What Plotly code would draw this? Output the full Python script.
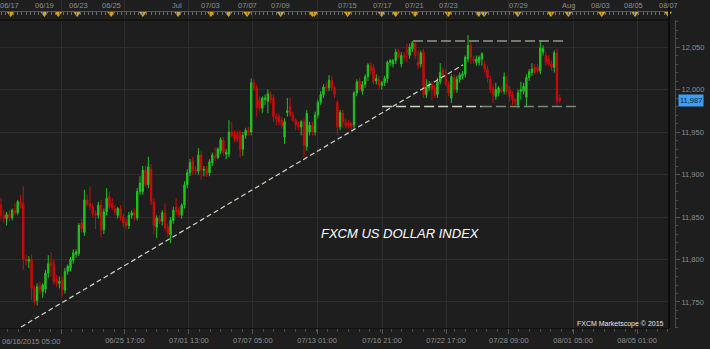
import plotly.graph_objects as go

# ---------------- data (4-hour bars) ----------------
open_ = [
    11864, 11852, 11848, 11853, 11849, 11858, 11855, 11868, 11866, 11800,
    11798, 11800, 11766, 11752, 11768, 11762, 11765, 11784, 11797, 11795,
    11776, 11772, 11776, 11764, 11786, 11790, 11799, 11806, 11807, 11843,
    11832, 11870, 11866, 11862, 11854, 11852, 11864, 11835, 11856, 11874,
    11866, 11860, 11852, 11860, 11850, 11844, 11840, 11852, 11855, 11849,
    11880, 11880, 11905, 11888, 11906, 11868, 11838, 11848, 11845, 11855,
    11838, 11829, 11846, 11862, 11858, 11852, 11864, 11888, 11902, 11916,
    11906, 11904, 11923, 11905, 11906, 11902, 11914, 11922, 11920, 11928,
    11940, 11924, 11924, 11950, 11946, 11948, 11950, 11930, 11946, 11952,
    11950, 12008, 12002, 11988, 11978, 11988, 11986, 11994, 11990, 11968,
    11968, 11964, 11944, 11973, 11980, 11970, 11964, 11958, 11956, 11962,
    11933, 11950, 11958, 11950, 11970, 11985, 11994, 12003, 12002, 12011,
    12002, 11985, 11956, 11972, 11962, 11960, 11960, 11958, 11996, 12010,
    11998, 12006, 12015, 12028, 12026, 12010, 12012, 12005, 12008, 12013,
    12032, 12030, 12034, 12044, 12030, 12040, 12046, 12040, 12048, 12054,
    12032, 12030, 12044, 11994, 12002, 12006, 12002, 11994, 12009, 12022,
    12014, 12006, 11990, 12014, 12000, 12012, 12016, 12018, 12036, 12052,
    12036, 12032, 12032, 12036, 12030, 12024, 12012, 12002, 11992, 11996,
    12000, 11998, 12006, 12000, 11994, 11988, 11982, 11998, 11998, 11991,
    12014, 12020, 12026, 12026, 12022, 12044, 12040, 12036, 12030, 12026,
    12043, 11990,
]
high = [
    11872, 11858, 11856, 11858, 11860, 11866, 11870, 11876, 11886, 11806,
    11804, 11806, 11770, 11772, 11774, 11772, 11788, 11805, 11808, 11800,
    11782, 11780, 11780, 11790, 11794, 11803, 11812, 11812, 11843, 11848,
    11882, 11876, 11886, 11866, 11858, 11868, 11870, 11860, 11884, 11880,
    11872, 11864, 11862, 11864, 11854, 11848, 11856, 11858, 11860, 11884,
    11898, 11910, 11910, 11921, 11912, 11872, 11852, 11852, 11858, 11866,
    11842, 11850, 11862, 11872, 11862, 11866, 11892, 11906, 11918, 11921,
    11910, 11931, 11928, 11910, 11910, 11918, 11926, 11932, 11932, 11944,
    11944, 11930, 11964, 11962, 11952, 11952, 11952, 11950, 11955, 11956,
    12013, 12012, 12006, 11992, 11992, 11994, 12000, 11998, 11994, 11972,
    11972, 11968, 11966, 11990, 11991, 11974, 11966, 11962, 11964, 11966,
    11976, 11962, 11962, 11974, 11988, 11998, 12006, 12008, 12017, 12016,
    12004, 11988, 11976, 11976, 11966, 11964, 11962, 11998, 12012, 12014,
    12010, 12018, 12031, 12032, 12030, 12018, 12016, 12010, 12016, 12034,
    12036, 12036, 12048, 12048, 12044, 12044, 12054, 12054, 12057, 12058,
    12046, 12046, 12048, 12012, 12010, 12010, 12006, 12014, 12031, 12026,
    12024, 12010, 12018, 12018, 12016, 12020, 12022, 12040, 12064, 12056,
    12040, 12040, 12040, 12044, 12034, 12028, 12016, 12006, 12008, 12004,
    12004, 12020, 12016, 12004, 11998, 11990, 12000, 12009, 12008, 12018,
    12024, 12031, 12030, 12030, 12058, 12052, 12044, 12040, 12034, 12046,
    12048, 11994,
]
low = [
    11846, 11843, 11840, 11845, 11846, 11852, 11852, 11860, 11788, 11793,
    11790, 11752, 11746, 11746, 11760, 11755, 11760, 11778, 11780, 11770,
    11768, 11766, 11756, 11760, 11782, 11786, 11795, 11802, 11804, 11832,
    11828, 11862, 11858, 11850, 11836, 11848, 11826, 11830, 11852, 11860,
    11858, 11852, 11848, 11846, 11838, 11836, 11836, 11848, 11846, 11846,
    11876, 11876, 11886, 11884, 11864, 11830, 11825, 11842, 11840, 11834,
    11826, 11819, 11842, 11852, 11850, 11848, 11860, 11884, 11898, 11900,
    11900, 11900, 11894, 11898, 11897, 11898, 11910, 11916, 11918, 11924,
    11922, 11918, 11920, 11944, 11938, 11938, 11920, 11922, 11942, 11946,
    11946, 11998, 11968, 11975, 11972, 11982, 11972, 11984, 11962, 11958,
    11958, 11954, 11936, 11968, 11968, 11962, 11952, 11952, 11946, 11921,
    11928, 11946, 11946, 11946, 11966, 11982, 11990, 11998, 11998, 11998,
    11990, 11946, 11952, 11955, 11954, 11954, 11952, 11954, 11992, 11998,
    11994, 12002, 12010, 12018, 12006, 12006, 12000, 12000, 12004, 12008,
    12028, 12026, 12030, 12036, 12026, 12034, 12032, 12036, 12044, 12036,
    12024, 12026, 11990, 11990, 11998, 11988, 11990, 11990, 12006, 12014,
    12004, 11992, 11984, 11996, 11996, 12008, 12012, 12014, 12032, 12030,
    12030, 12028, 12028, 12028, 12020, 12008, 11996, 11984, 11988, 11992,
    11996, 11994, 11994, 11986, 11982, 11982, 11978, 11988, 11994, 11979,
    12010, 12016, 12018, 12020, 12018, 12040, 12028, 12028, 12022, 12020,
    11982, 11984,
]
close = [
    11852, 11848, 11853, 11849, 11858, 11855, 11868, 11863, 11800, 11798,
    11800, 11766, 11750, 11768, 11765, 11770, 11784, 11795, 11793, 11774,
    11772, 11774, 11764, 11786, 11792, 11800, 11808, 11809, 11840, 11836,
    11870, 11865, 11862, 11854, 11852, 11864, 11835, 11856, 11872, 11862,
    11861, 11856, 11860, 11850, 11843, 11840, 11852, 11855, 11852, 11880,
    11890, 11905, 11888, 11909, 11868, 11840, 11849, 11845, 11855, 11837,
    11831, 11846, 11858, 11856, 11853, 11864, 11888, 11902, 11914, 11905,
    11904, 11923, 11905, 11906, 11900, 11915, 11923, 11920, 11930, 11941,
    11926, 11926, 11950, 11946, 11942, 11942, 11929, 11946, 11952, 11950,
    12008, 12002, 11979, 11978, 11990, 11990, 11995, 11988, 11968, 11966,
    11962, 11958, 11962, 11975, 11970, 11964, 11958, 11956, 11962, 11935,
    11972, 11958, 11950, 11970, 11985, 11994, 12003, 12002, 12011, 12002,
    11994, 11956, 11973, 11962, 11957, 11958, 11956, 11996, 12009, 12000,
    12006, 12015, 12029, 12022, 12009, 12013, 12005, 12008, 12013, 12032,
    12034, 12034, 12044, 12038, 12040, 12038, 12044, 12050, 12055, 12040,
    12028, 12043, 11994, 12003, 12006, 12000, 11994, 12009, 12020, 12016,
    12006, 11996, 12015, 12000, 12012, 12017, 12018, 12038, 12052, 12038,
    12034, 12036, 12038, 12042, 12024, 12014, 12000, 11994, 12000, 12002,
    11998, 12015, 11998, 11992, 11988, 11986, 11996, 12000, 12004, 12014,
    12021, 12024, 12020, 12022, 12049, 12048, 12032, 12030, 12026, 12043,
    11986, 11987,
]
bar_index = list(range(len(close)))

# bottom time axis (positions in bar units)
bottom_tick_pos = [21.6, 44.6, 67.6, 90.6, 113.7, 137.1, 160.1, 182.7, 205.8, 228.8]
bottom_tick_text = ["", "06/25 17:00", "07/01 13:00", "07/07 05:00", "07/13 01:00",
                    "07/16 21:00", "07/22 17:00", "07/28 09:00", "08/01 05:00", "08/05 01:00"]
first_bottom_label = "06/16/2015 05:00"

# top date strip
top_label_pos = [3.2, 15.5, 27.7, 39.6, 63.3, 75.5, 88.5, 100.7, 124.8, 137.1,
                 148.6, 160.8, 186.0, 204.0, 215.8, 227.7, 240.0]
top_label_text = ["06/17", "06/19", "06/23", "06/25", "Jul", "07/03", "07/07", "07/09",
                  "07/15", "07/17", "07/21", "07/23", "07/29", "Aug", "08/03", "08/05", "08/07"]
event_pos = [3.5, 15.6, 20.6, 27.4, 39.6, 51.0, 63.7, 75.5, 81.9, 88.5, 100.6, 112.0,
             112.7, 124.7, 136.9, 142.0, 148.9, 160.9, 171.9, 173.8, 185.9, 197.8,
             204.1, 216.1, 228.1, 240.0]

# drawn analysis lines
trend_x = [7.2, 166.2]
trend_y = [11720.6, 12029.0]
resist_x = [148.2, 202.9]
resist_level = 12057
support_light_x = [137.1, 173.0]
support_gray_x = [173.0, 207.6]
support_level = 11980
last_price = 11987

price_ticks = [11750, 11800, 11850, 11900, 11950, 12000, 12050]

# ---------------- figure ----------------
BG = "#1e1e1e"
GRID = "#2d2d2d"
TXT = "#8e8e8e"
FONT = "Liberation Sans"
X_RANGE = [-0.36, 240.3]
XDOM = 669 / 710
MAIN_TOP = 308 / 328

fig = go.Figure()

fig.add_trace(go.Candlestick(
    x=bar_index, open=open_, high=high, low=low, close=close,
    increasing=dict(line=dict(color="#1ec41e", width=1), fillcolor="#1ec41e"),
    decreasing=dict(line=dict(color="#cc0a0a", width=1), fillcolor="#cc0a0a"),
    whiskerwidth=0, hoverinfo="skip", showlegend=False,
))

fig.add_trace(go.Scatter(x=trend_x, y=trend_y, mode="lines",
                         line=dict(color="#cfdac6", width=1.2, dash="5px,3px"),
                         hoverinfo="skip", showlegend=False))
fig.add_trace(go.Scatter(x=resist_x, y=[resist_level] * len(resist_x), mode="lines",
                         line=dict(color="#8d9c8a", width=1.5, dash="10px,4px"),
                         hoverinfo="skip", showlegend=False))
fig.add_trace(go.Scatter(x=support_light_x, y=[support_level] * len(support_light_x), mode="lines",
                         line=dict(color="#c9d4c1", width=1.5, dash="10px,4px"),
                         hoverinfo="skip", showlegend=False))
fig.add_trace(go.Scatter(x=support_gray_x, y=[support_level] * len(support_gray_x), mode="lines",
                         line=dict(color="#7b8878", width=1.5, dash="10px,4px"),
                         hoverinfo="skip", showlegend=False))

# event markers in the top strip
fig.add_trace(go.Scatter(x=event_pos, y=[13.6] * len(event_pos), xaxis="x", yaxis="y2",
                         mode="markers", cliponaxis=False,
                         marker=dict(symbol="triangle-down", size=7, color="#d6a01c",
                                     line=dict(width=0)),
                         hoverinfo="skip", showlegend=False))
# invisible trace so the strip ruler axis is drawn
fig.add_trace(go.Scatter(x=[0], y=[-50], xaxis="x2", yaxis="y2", mode="markers",
                         marker=dict(opacity=0), hoverinfo="skip", showlegend=False))

annotations = []
for pos, txt in zip(top_label_pos, top_label_text):
    annotations.append(dict(x=pos, y=5, xref="x", yref="y2", text=txt, showarrow=False,
                            font=dict(family=FONT, size=7.5, color=TXT)))
annotations.append(dict(x=0, y=-0.04, xref="paper", yref="paper", text=first_bottom_label,
                        showarrow=False, xanchor="left", yanchor="middle",
                        font=dict(family=FONT, size=7.5, color=TXT)))
annotations.append(dict(x=400 / 710, y=(328 - 233) / 328, xref="paper", yref="paper",
                        text="<i>FXCM US DOLLAR INDEX</i>", showarrow=False,
                        xanchor="center", yanchor="middle",
                        font=dict(family="Liberation Sans Narrow, Liberation Sans", size=13,
                                  color="#ffffff")))
annotations.append(dict(x=666 / 710, y=(328 - 324) / 328, xref="paper", yref="paper",
                        text="FXCM Marketscope © 2015", showarrow=False, xanchor="right",
                        yanchor="middle", font=dict(family=FONT, size=7, color="#e6e6e6")))
annotations.append(dict(x=678 / 710, y=last_price, xref="paper", yref="y",
                        text=f"{last_price:,}", showarrow=False, xanchor="left",
                        yanchor="middle", bgcolor="#3d9ef5", borderpad=1,
                        font=dict(family=FONT, size=7.5, color="#0b1b2c")))

shapes = [
    dict(type="line", xref="paper", yref="paper", x0=XDOM, x1=XDOM, y0=0, y1=1,
         line=dict(color="#0d0d0d", width=2)),
    dict(type="line", xref="paper", yref="paper", x0=0, x1=XDOM, y0=MAIN_TOP, y1=MAIN_TOP,
         line=dict(color="#111111", width=1.5)),
]

fig.update_layout(
    width=710, height=349,
    margin=dict(l=0, r=0, t=0, b=21, pad=0),
    paper_bgcolor=BG, plot_bgcolor=BG,
    showlegend=False,
    xaxis=dict(domain=[0, XDOM], range=X_RANGE, anchor="y",
               rangeslider=dict(visible=False),
               tickmode="array", tickvals=bottom_tick_pos, ticktext=bottom_tick_text,
               ticks="outside", ticklen=5, tickcolor="#555555", tickwidth=1,
               showline=True, linecolor="#101010", linewidth=1,
               showgrid=True, gridcolor=GRID, gridwidth=1, zeroline=False,
               tickfont=dict(family=FONT, size=7.5, color=TXT),
               minor=dict(tickmode="linear", tick0=21.6, dtick=3.83, ticks="outside",
                          ticklen=3, tickcolor="#4a4a4a", showgrid=False)),
    yaxis=dict(domain=[0, MAIN_TOP], range=[11719.4, 12081.8], anchor="free",
               position=675 / 710, side="right",
               tickmode="array", tickvals=price_ticks, tickformat=",",
               ticks="outside", ticklen=4, tickcolor="#555555",
               showline=True, linecolor="#4a4a4a", linewidth=1,
               showgrid=True, gridcolor=GRID, gridwidth=1, zeroline=False,
               tickfont=dict(family=FONT, size=7.5, color=TXT),
               minor=dict(tickmode="linear", tick0=11700, dtick=10, ticks="outside",
                          ticklen=2, tickcolor="#4a4a4a", showgrid=False)),
    yaxis2=dict(domain=[MAIN_TOP, 1], range=[20, 0], anchor="x", visible=False,
                fixedrange=True),
    xaxis2=dict(overlaying="x", anchor="free", position=(328 - 11) / 328, side="bottom",
                range=X_RANGE, tickmode="linear", tick0=0, dtick=1.5,
                ticks="outside", ticklen=3, tickcolor="#6a6a6a",
                showline=True, linecolor="#555555", showticklabels=False,
                showgrid=False, zeroline=False),
    annotations=annotations,
    shapes=shapes,
)

fig.write_html("out.html")
